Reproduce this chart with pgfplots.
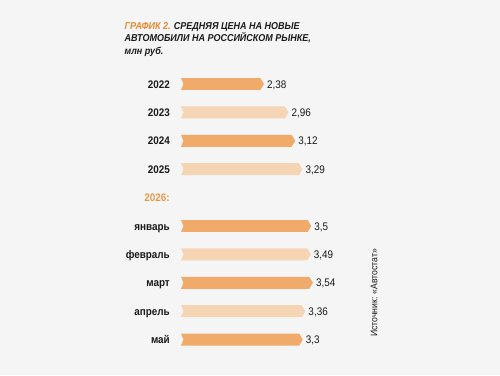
\documentclass[border=0pt]{standalone}
\usepackage{pgfplots}
\pgfplotsset{compat=1.18}
\usepackage{fontspec}
\setmainfont{Liberation Sans}[FakeStretch=0.9]
\definecolor{bg}{HTML}{F5F5F5}
\definecolor{dk}{HTML}{F0AA6A}
\definecolor{lt}{HTML}{F6D5B5}
\definecolor{ttl}{HTML}{E8892E}
\definecolor{hdr}{HTML}{E89A4A}
\definecolor{txt}{HTML}{1A1A1A}
\begin{document}
\begin{tikzpicture}[x=1pt,y=1pt]
% page background
\fill[bg] (0,0) rectangle (500,375);
% title (anchored at the baseline of its last line)
\node[anchor=base west, inner sep=0pt, align=left, font=\fontsize{10}{12.6}\selectfont\bfseries\itshape, text=txt]
  at (124.5,320.7) {\textcolor{ttl}{ГРАФИК 2.} СРЕДНЯЯ ЦЕНА НА НОВЫЕ\\АВТОМОБИЛИ НА РОССИЙСКОМ РЫНКЕ,\\млн руб.};
% source
\node[rotate=90, anchor=west, inner sep=0pt, font=\fontsize{9.6}{11}\selectfont, text=txt]
  at (374,38) {Источник: «Автостат»};
\begin{axis}[
  at={(181pt,21.2pt)}, anchor=south west,
  scale only axis, width=151.3pt, height=284pt,
  xmin=0.415, xmax=4.0, ymin=-0.5, ymax=9.5,
  y dir=reverse, clip=false,
  axis line style={draw=none},
  xtick=\empty,
  ytick={0,1,2,3,4,5,6,7,8,9},
  yticklabels={2022,2023,2024,2025,\textcolor{hdr}{2026:},январь,февраль,март,апрель,май},
  yticklabel style={anchor=east, inner sep=0pt, xshift=-11pt,
    text height=8pt, text depth=0pt,
    font=\fontsize{11}{13}\selectfont\bfseries, text=txt},
  major tick length=0pt, tick style={draw=none},
]
% arrow-shaped bars: notch at the left, point at the value
\addplot[fill=dk, draw=none] coordinates {(0.415,-0.21) (2.297,-0.21) (2.38,0) (2.297,0.21) (0.415,0.21) (0.475,0)};
\addplot[fill=lt, draw=none] coordinates {(0.415,0.79) (2.877,0.79) (2.96,1) (2.877,1.21) (0.415,1.21) (0.475,1)};
\addplot[fill=dk, draw=none] coordinates {(0.415,1.79) (3.037,1.79) (3.12,2) (3.037,2.21) (0.415,2.21) (0.475,2)};
\addplot[fill=lt, draw=none] coordinates {(0.415,2.79) (3.207,2.79) (3.29,3) (3.207,3.21) (0.415,3.21) (0.475,3)};
\addplot[fill=dk, draw=none] coordinates {(0.415,4.79) (3.417,4.79) (3.5,5) (3.417,5.21) (0.415,5.21) (0.475,5)};
\addplot[fill=lt, draw=none] coordinates {(0.415,5.79) (3.407,5.79) (3.49,6) (3.407,6.21) (0.415,6.21) (0.475,6)};
\addplot[fill=dk, draw=none] coordinates {(0.415,6.79) (3.457,6.79) (3.54,7) (3.457,7.21) (0.415,7.21) (0.475,7)};
\addplot[fill=lt, draw=none] coordinates {(0.415,7.79) (3.277,7.79) (3.36,8) (3.277,8.21) (0.415,8.21) (0.475,8)};
\addplot[fill=dk, draw=none] coordinates {(0.415,8.79) (3.217,8.79) (3.3,9) (3.217,9.21) (0.415,9.21) (0.475,9)};
% value labels
\addplot[draw=none, nodes near coords, point meta=explicit symbolic,
  every node near coord/.append style={anchor=west, inner sep=0pt, xshift=3pt,
    text height=8pt, text depth=0pt,
    font=\fontsize{11}{13}\selectfont, text=txt}]
  coordinates {(2.38,0) [2,38] (2.96,1) [2,96] (3.12,2) [3,12] (3.29,3) [3,29]
    (3.5,5) [3,5] (3.49,6) [3,49] (3.54,7) [3,54] (3.36,8) [3,36] (3.3,9) [3,3]};
\end{axis}
\end{tikzpicture}
\end{document}
